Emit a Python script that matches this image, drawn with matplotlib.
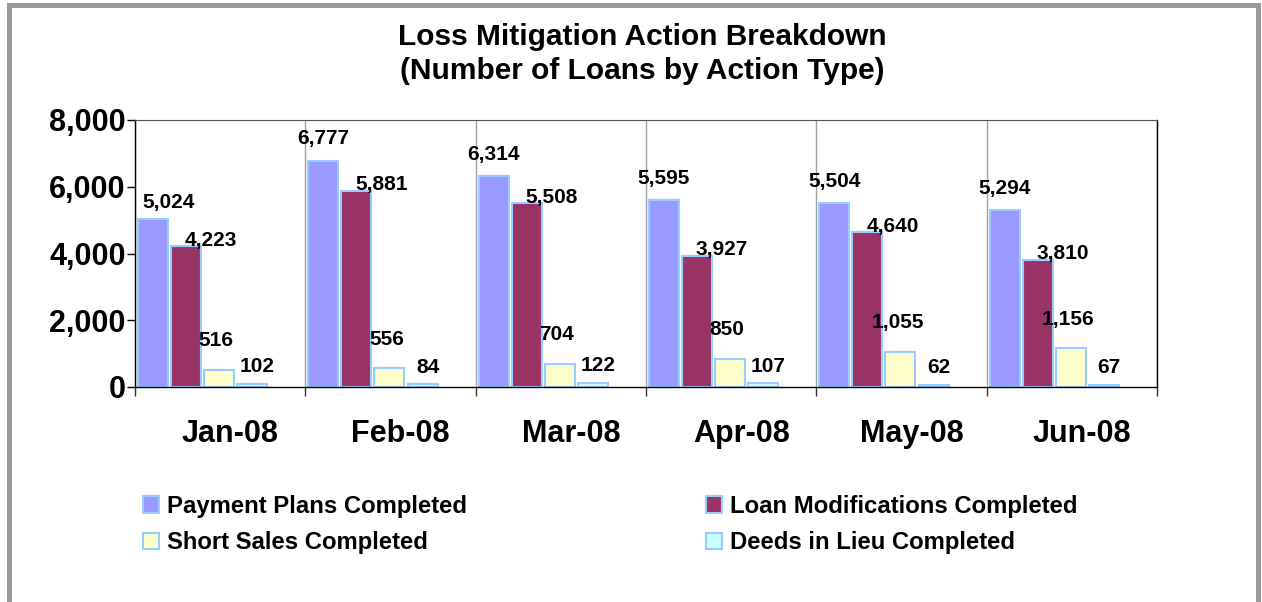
import matplotlib.pyplot as plt
from matplotlib.patches import Rectangle, Patch
import numpy as np

# data
months = ['Jan-08', 'Feb-08', 'Mar-08', 'Apr-08', 'May-08', 'Jun-08']
payment_plans = [5024, 6777, 6314, 5595, 5504, 5294]
loan_mods = [4223, 5881, 5508, 3927, 4640, 3810]
short_sales = [516, 556, 704, 850, 1055, 1156]
deeds_in_lieu = [102, 84, 122, 107, 62, 67]

series_names = ['Payment Plans Completed', 'Loan Modifications Completed',
                'Short Sales Completed', 'Deeds in Lieu Completed']
series_values = [payment_plans, loan_mods, short_sales, deeds_in_lieu]
colors = ['#9999FF', '#993366', '#FFFFCC', '#CCFFFF']
edge = '#99CCFF'
# label offsets (pixels) relative to bar centre / top, per series
label_dx = [0, 25, -3, 5]
label_dy = [22, 6, 29, 17]

plt.rcParams['font.family'] = ['Liberation Sans', 'DejaVu Sans']
plt.rcParams['font.weight'] = 'bold'

fig = plt.figure(figsize=(12.62, 6.02), dpi=100)
ax = fig.add_axes([135 / 1262, 1 - 387 / 602, (1157 - 135) / 1262, (387 - 120) / 602])

x = np.arange(len(months))
width = 0.176
step = 0.194
px = 0.72  # points per pixel at 100 dpi

for k, (name, vals) in enumerate(zip(series_names, series_values)):
    left = x - 0.5 + 0.018 + k * step
    bars = ax.bar(left, vals, width=width, align='edge', color=colors[k],
                  edgecolor=edge, linewidth=1.5, label=name, zorder=3)
    for i, (b, v) in enumerate(zip(bars, vals)):
        dx, dy = label_dx[k], label_dy[k]
        if i == 0 and k == 0:
            # first label is pushed clear of the value axis
            dx, dy = 16, 17
        ax.annotate(f'{v:,}', (b.get_x() + b.get_width() / 2, v),
                    xytext=(dx * px, dy * px),
                    textcoords='offset points', ha='center', va='center',
                    fontsize=15, fontweight='bold', zorder=5)

ax.set_xlim(-0.5, len(months) - 0.5)
ax.set_ylim(0, 8000)
ax.set_yticks([0, 2000, 4000, 6000, 8000])
ax.set_yticklabels([f'{t:,}' for t in [0, 2000, 4000, 6000, 8000]],
                   fontsize=22, fontweight='bold')
ax.tick_params(axis='y', direction='out', length=8 * px, width=1, pad=1)

ax.set_xticks(x + 0.06)
ax.set_xticklabels(months, fontsize=22, fontweight='bold')
ax.tick_params(axis='x', which='major', length=0, pad=23)
ax.set_xticks(np.arange(-0.5, len(months)), minor=True)
ax.tick_params(axis='x', which='minor', direction='out', length=9 * px, width=1, color='#333333')
ax.grid(True, axis='x', which='minor', color='#A0A0A0', linewidth=1, zorder=0)

for s in ['left', 'bottom', 'right']:
    ax.spines[s].set_color('black')
    ax.spines[s].set_linewidth(1)
ax.spines['top'].set_color('#555555')
ax.spines['bottom'].set_zorder(4)

fig.text(642 / 1262, 1 - 54 / 602,
         'Loss Mitigation Action Breakdown\n(Number of Loans by Action Type)',
         ha='center', va='center', fontsize=21.5, fontweight='bold', linespacing=1.3)

handles = [Patch(facecolor=colors[i], edgecolor=edge, linewidth=1.5) for i in [0, 2, 1, 3]]
labels = [series_names[i] for i in [0, 2, 1, 3]]
fig.legend(handles, labels, ncol=2, loc='upper left',
           bbox_to_anchor=(143 / 1262, 1 - 495 / 602), frameon=False,
           prop={'size': 17.2, 'weight': 'bold'}, handlelength=0.68, handleheight=0.68,
           handletextpad=0.33, labelspacing=0.55, columnspacing=10.0,
           borderpad=0, borderaxespad=0)

# grey frame round the chart
gray = '#999999'
fig.add_artist(Rectangle((7 / 1262, 0), 5 / 1262, 1 - 3 / 602, transform=fig.transFigure,
                         color=gray, lw=0))
fig.add_artist(Rectangle((7 / 1262, 1 - 8 / 602), (1261 - 7) / 1262, 5 / 602,
                         transform=fig.transFigure, color=gray, lw=0))
fig.add_artist(Rectangle((1256 / 1262, 0), 5 / 1262, 1 - 3 / 602, transform=fig.transFigure,
                         color=gray, lw=0))

plt.savefig('out.png', dpi=100)
plt.close()
